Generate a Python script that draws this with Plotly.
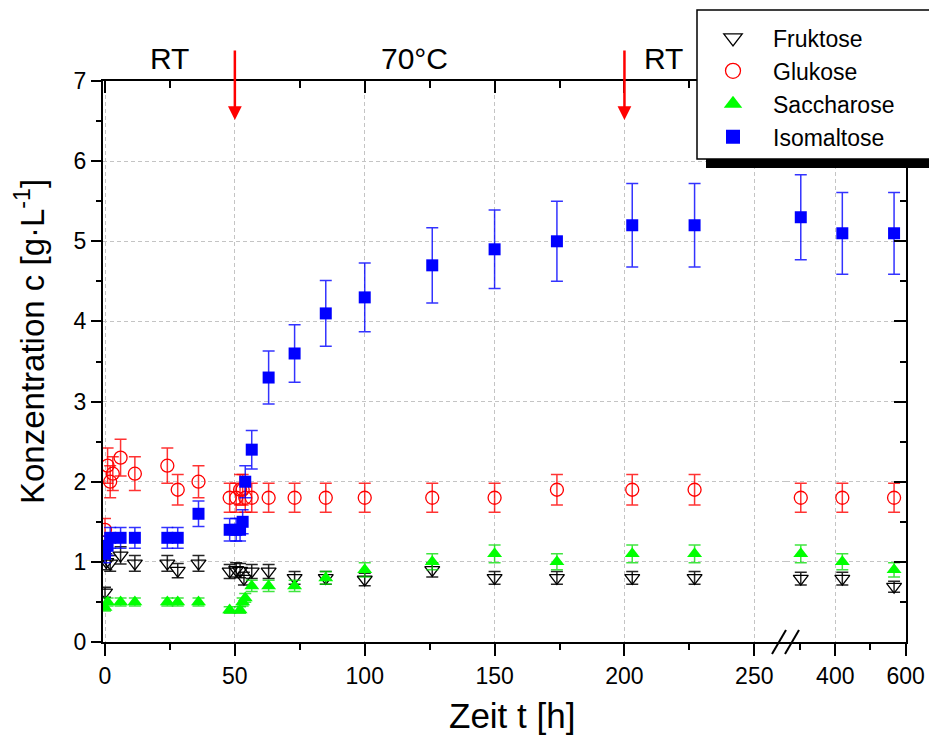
import plotly.graph_objects as go

# ---------------- data ----------------
t_fru = [0, 0.5, 2, 6, 11.5, 24, 28, 36, 48, 50.5, 52, 53.5, 56.5, 63, 73, 85, 100,
         126, 150, 174, 203, 227, 302, 420, 567]
c_fru = [0.62, 1.0, 0.98, 1.08, 0.98, 0.98, 0.89, 0.98, 0.88, 0.9, 0.89, 0.79, 0.88, 0.88,
         0.8, 0.8, 0.78, 0.9, 0.8, 0.8, 0.8, 0.8, 0.79, 0.79, 0.69]

t_glu = [0, 1, 2, 3, 6, 11.5, 24, 28, 36, 48, 50.5, 52, 53, 54, 56.5, 63, 73, 85, 100,
         126, 150, 174, 203, 227, 302, 420, 567]
c_glu = [1.4, 2.2, 2.0, 2.1, 2.3, 2.1, 2.2, 1.9, 2.0, 1.8, 1.8, 1.9, 1.9, 1.8, 1.8, 1.8,
         1.8, 1.8, 1.8, 1.8, 1.8, 1.9, 1.9, 1.9, 1.8, 1.8, 1.8]

t_sac = [0, 1, 6, 11.5, 24, 28, 36, 48, 52, 53, 54, 56.5, 63, 73, 85, 100,
         126, 150, 174, 203, 227, 302, 420, 567]
c_sac = [0.43, 0.5, 0.5, 0.5, 0.5, 0.5, 0.5, 0.4, 0.4, 0.5, 0.55, 0.7, 0.7, 0.7, 0.8, 0.9,
         1.0, 1.1, 1.0, 1.1, 1.1, 1.1, 1.0, 0.9]

t_iso = [0, 1, 2, 6, 11.5, 24, 28, 36, 48, 50.5, 52, 53, 54, 56.5, 63, 73, 85, 100,
         126, 150, 174, 203, 227, 302, 420, 567]
c_iso = [1.1, 1.2, 1.3, 1.3, 1.3, 1.3, 1.3, 1.6, 1.4, 1.4, 1.4, 1.5, 2.0, 2.4, 3.3, 3.6,
         4.1, 4.3, 4.7, 4.9, 5.0, 5.2, 5.2, 5.3, 5.1, 5.1]

err_percent = 10          # error bars: +-10 %
t_break = 260             # axis break position
arrow_times = [50, 200]
phase_labels = ["RT", "70°C", "RT"]
phase_label_t = [25, 119, 215]

series_names = ["Fruktose", "Glukose", "Saccharose", "Isomaltose"]

# ---------------- figure geometry ----------------
W, H = 929, 735
ML, MR, MT, MB = 103, 23, 81, 93
PW, PH = W - ML - MR, H - MT - MB


def fx(px):
    return (px - ML) / PW


def fy(py):
    return (H - MB - py) / PH


split = fx(786)
FONT = "Liberation Sans, Arial, sans-serif"

styles = {
    "Fruktose": dict(symbol="triangle-down-open", color="black", size=13, lsize=16,
                     line=dict(color="black", width=1.3), err="rgba(0,0,0,0.85)"),
    "Glukose": dict(symbol="circle-open", color="#ff0000", size=13, lsize=15,
                    line=dict(color="#ff0000", width=1.3), err="rgba(255,0,0,0.8)"),
    "Saccharose": dict(symbol="triangle-up", color="#00ff00", size=13, lsize=16,
                       line=dict(width=0), err="rgba(0,220,0,0.75)"),
    "Isomaltose": dict(symbol="square", color="#0000ff", size=12, lsize=14,
                       line=dict(width=0), err="rgba(0,0,255,0.8)"),
}
data = {
    "Fruktose": (t_fru, c_fru),
    "Glukose": (t_glu, c_glu),
    "Saccharose": (t_sac, c_sac),
    "Isomaltose": (t_iso, c_iso),
}

fig = go.Figure()

for name in series_names:
    st = styles[name]
    tt, cc = data[name]
    seg1 = [(a, b) for a, b in zip(tt, cc) if a <= t_break]
    seg2 = [(a, b) for a, b in zip(tt, cc) if a > t_break]
    for seg, xa in ((seg1, "x"), (seg2, "x2")):
        if not seg:
            continue
        fig.add_trace(go.Scatter(
            x=[p[0] for p in seg], y=[p[1] for p in seg],
            mode="markers", xaxis=xa, yaxis="y", showlegend=False, name=name,
            marker=dict(symbol=st["symbol"], color=st["color"], size=st["size"],
                        line=st["line"]),
            error_y=dict(type="percent", value=err_percent, color=st["err"],
                         thickness=1.5, width=6),
            hoverinfo="x+y+name",
        ))

# legend-only entries (larger symbols, like the reference legend)
for name in series_names:
    st = styles[name]
    fig.add_trace(go.Scatter(
        x=[None], y=[None], mode="markers", name=name, xaxis="x", yaxis="y",
        marker=dict(symbol=st["symbol"], color=st["color"], size=st["lsize"],
                    line=st["line"]),
        showlegend=True,
    ))

# dummy traces so that mirror axes are drawn
fig.add_trace(go.Scatter(x=[None], y=[None], xaxis="x3", yaxis="y", showlegend=False, hoverinfo="skip"))
fig.add_trace(go.Scatter(x=[None], y=[None], xaxis="x4", yaxis="y", showlegend=False, hoverinfo="skip"))
fig.add_trace(go.Scatter(x=[None], y=[None], xaxis="x2", yaxis="y2", showlegend=False, hoverinfo="skip"))

grid = dict(showgrid=True, gridcolor="#c4c4c4", gridwidth=1, griddash="4px,3px")
axis_common = dict(showline=True, linecolor="black", linewidth=2, zeroline=False,
                   tickcolor="black", tickwidth=2,
                   tickfont=dict(family=FONT, size=23, color="black"))
axis_nofont = {k: v for k, v in axis_common.items() if k != "tickfont"}

r1 = [-0.77, 262.2]
r2 = [t_break, 600.9]

fig.update_layout(
    width=W, height=H,
    margin=dict(l=ML, r=MR, t=MT, b=MB, autoexpand=False),
    paper_bgcolor="white", plot_bgcolor="white",
    font=dict(family=FONT, size=22, color="black"),
    xaxis=dict(domain=[0, split], range=r1, tick0=0, dtick=50, ticks="outside", ticklen=12,
               minor=dict(dtick=25, tick0=0, ticks="outside", ticklen=6, tickwidth=2,
                          tickcolor="black", showgrid=False),
               anchor="y", **grid, **axis_common),
    xaxis2=dict(domain=[split, 1], range=r2, tickvals=[400, 600], ticks="outside", ticklen=12,
                minor=dict(tickvals=[300, 500], ticks="outside", ticklen=6, tickwidth=2,
                           tickcolor="black", showgrid=False),
                anchor="y", **grid, **axis_common),
    xaxis3=dict(overlaying="x", side="top", range=r1, tick0=0, dtick=50, ticks="inside",
                ticklen=12, showticklabels=False, showgrid=False, anchor="y",
                minor=dict(dtick=25, tick0=0, ticks="inside", ticklen=7, tickwidth=2,
                           tickcolor="black", showgrid=False),
                **axis_nofont),
    xaxis4=dict(overlaying="x2", side="top", range=r2, tickvals=[400, 600], ticks="inside",
                ticklen=12, showticklabels=False, showgrid=False, anchor="y",
                minor=dict(tickvals=[300, 500], ticks="inside", ticklen=7, tickwidth=2,
                           tickcolor="black", showgrid=False),
                **axis_nofont),
    yaxis=dict(range=[0, 7], dtick=1, ticks="outside", ticklen=10, anchor="x",
               minor=dict(dtick=0.5, ticks="outside", ticklen=5, tickwidth=2,
                          tickcolor="black", showgrid=False),
               **grid, **axis_common),
    yaxis2=dict(overlaying="y", side="right", anchor="x2", range=[0, 7], dtick=1,
                ticks="inside", ticklen=12, showticklabels=False, showgrid=False,
                minor=dict(dtick=0.5, ticks="inside", ticklen=6, tickwidth=2,
                           tickcolor="black", showgrid=False),
                **axis_nofont),
    legend=dict(x=fx(693), y=fy(16.5), xanchor="left", yanchor="top",
                bgcolor="rgba(0,0,0,0)", borderwidth=0, itemwidth=70,
                font=dict(family=FONT, size=23, color="black"), tracegroupgap=0),
    showlegend=True,
)

shapes = [
    # legend shadow + box
    dict(type="rect", xref="paper", yref="paper", x0=fx(706), x1=fx(945), y0=fy(168), y1=fy(19),
         fillcolor="black", line=dict(width=0), layer="above"),
    dict(type="rect", xref="paper", yref="paper", x0=fx(697), x1=fx(945), y0=fy(159), y1=fy(10),
         fillcolor="white", line=dict(color="black", width=1.5), layer="above"),
    # axis break marks
    dict(type="line", xref="paper", yref="paper", x0=fx(772), x1=fx(786), y0=fy(654), y1=fy(630),
         line=dict(color="black", width=2), layer="above"),
    dict(type="line", xref="paper", yref="paper", x0=fx(785), x1=fx(799), y0=fy(654), y1=fy(630),
         line=dict(color="black", width=2), layer="above"),
]
fig.update_layout(shapes=shapes)

annotations = []
for ta in arrow_times:
    annotations.append(dict(x=ta, xref="x", y=fy(120), yref="paper", text="", showarrow=True,
                            ax=0, ay=-71, arrowhead=2, arrowsize=1.1, arrowwidth=2.5,
                            arrowcolor="#ff0000", standoff=0))
for lab, tl in zip(phase_labels, phase_label_t):
    annotations.append(dict(x=tl, xref="x", y=fy(59), yref="paper", text=lab, showarrow=False,
                            xanchor="center", yanchor="middle",
                            font=dict(family=FONT, size=30, color="black")))
annotations.append(dict(x=fx(512), y=fy(715), xref="paper", yref="paper", text="Zeit t [h]",
                        showarrow=False, xanchor="center", yanchor="middle",
                        font=dict(family=FONT, size=35, color="black")))
annotations.append(dict(x=fx(30), y=fy(342), xref="paper", yref="paper",
                        text="Konzentration c [g·L<sup>-1</sup>]", textangle=-90,
                        showarrow=False, xanchor="center", yanchor="middle",
                        font=dict(family=FONT, size=33, color="black")))
fig.update_layout(annotations=annotations)

fig.write_html("out.html")
